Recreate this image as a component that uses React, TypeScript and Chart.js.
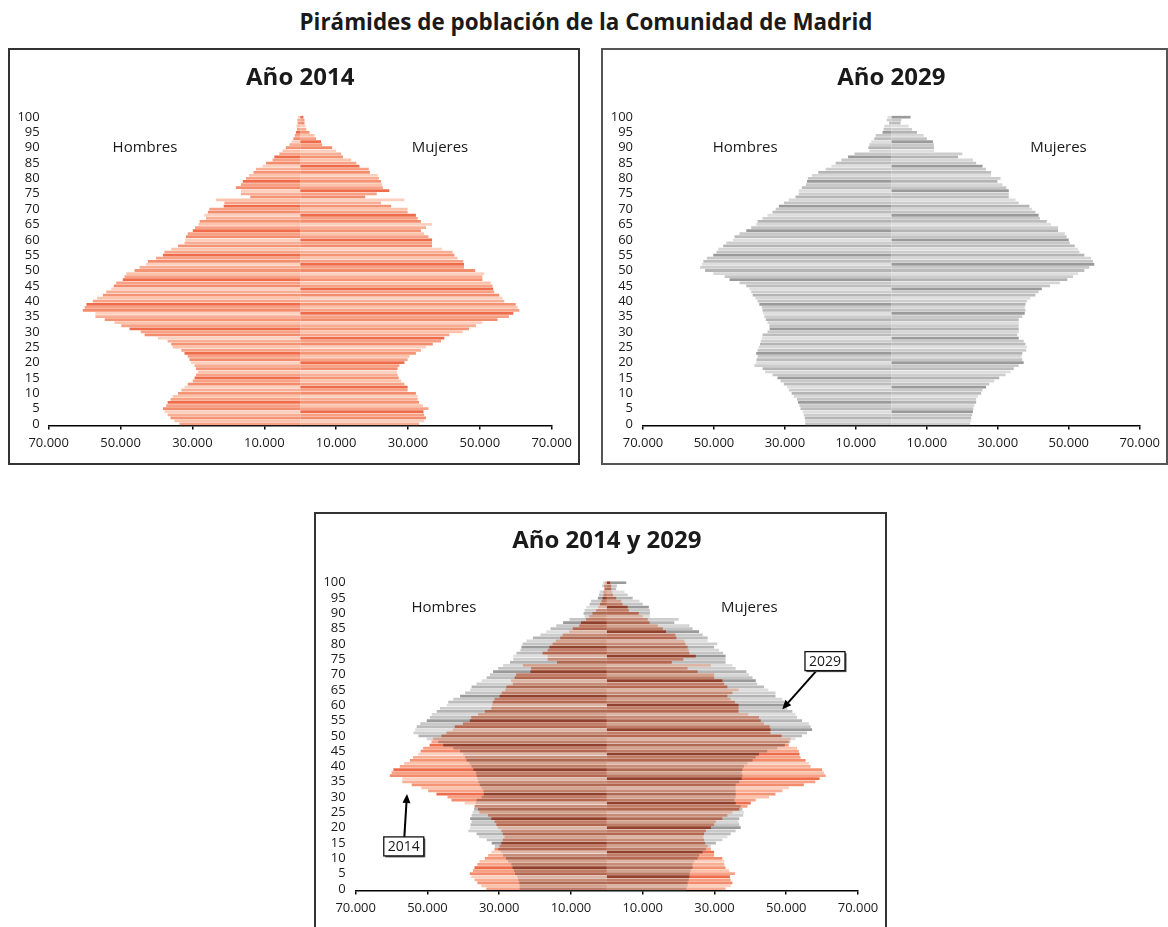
import React, { useEffect, useRef } from 'react';
import { Chart, registerables } from 'chart.js';

Chart.register(...registerables);

// ---------- data ----------
const AGES: string[] = Array.from({ length: 101 }, (_, i) => String(i));

const MALES_2014 = [
  33600, 35000, 36100, 36900, 37800, 38200, 37300, 36900, 36100, 35500,
  34000, 33100, 32200, 31300, 29900, 29400, 29000, 28500, 29000, 29400,
  30400, 30800, 31300, 32200, 33100, 35500, 35900, 36900, 39600, 43300,
  44400, 47500, 49800, 51700, 54400, 57000, 57000, 60500, 60000, 59500,
  57700, 56500, 54900, 54000, 52600, 51900, 51200, 49400, 48900, 48400,
  46100, 44700, 42900, 42400, 40100, 38200, 37800, 35900, 34000, 32200,
  32000, 31800, 31300, 29900, 29300, 28300, 28000, 26200, 26700, 25700,
  25300, 21300, 21100, 23400, 13900, 16500, 16500, 17900, 16500, 16000,
  15100, 14200, 13000, 12300, 10500, 9500, 7700, 7200, 5800, 4900,
  4000, 3000, 2400, 1900, 1500, 1200, 900, 1000, 700, 800,
  600,
];

const FEMALES_2014 = [
  33100, 34500, 35000, 34500, 34300, 35700, 34100, 33100, 32700, 32700,
  32200, 29900, 29900, 29000, 28100, 27400, 27100, 26900, 27100, 27600,
  29000, 29900, 30400, 32200, 33600, 35000, 36900, 39200, 40100, 41500,
  45200, 47000, 48900, 50700, 54900, 58100, 59300, 61000, 60500, 60000,
  56800, 56300, 55400, 54000, 53700, 53500, 53000, 50700, 50700, 51200,
  48700, 45600, 45600, 45400, 43800, 42900, 42400, 39400, 36700, 36700,
  36700, 35700, 34500, 33600, 35000, 36700, 33600, 32700, 32200, 29900,
  29900, 25300, 22500, 29000, 18100, 21300, 24800, 23000, 22800, 22500,
  21900, 21600, 19400, 19100, 16500, 15600, 14200, 11900, 11400, 10000,
  8900, 6100, 5800, 4400, 4000, 2600, 1700, 1500, 1200, 1200,
  900,
];

const MALES_2029 = [
  24300, 24300, 24400, 24700, 25000, 25600, 25900, 26300, 26600, 27500,
  28100, 28900, 29400, 30300, 31200, 32100, 33500, 35600, 36300, 38600,
  38100, 38000, 37700, 38100, 37700, 37400, 37000, 36800, 36500, 36300,
  34900, 34300, 34400, 34900, 35400, 35800, 36100, 36300, 36500, 37200,
  37700, 38300, 39100, 39500, 40000, 40900, 42800, 45600, 47000, 50200,
  52500, 53900, 53400, 53000, 52000, 50200, 49300, 48800, 47400, 46500,
  44600, 44200, 42800, 40900, 39500, 38100, 37700, 36300, 34900, 33500,
  32600, 31700, 30300, 28900, 27000, 26100, 26100, 25200, 24100, 23800,
  23500, 22400, 20600, 18500, 16900, 15700, 14100, 12200, 10400, 6200,
  6500, 6200, 5700, 4800, 4400, 2500, 2200, 2000, 600, 1300,
  1100,
];

const FEMALES_2029 = [
  22200, 22500, 22500, 22800, 23000, 23100, 23400, 23900, 23900, 24400,
  25300, 25700, 26700, 27600, 29000, 30400, 32200, 33600, 34500, 35900,
  37300, 36900, 36700, 36900, 38000, 38200, 37800, 37300, 35900, 35500,
  35900, 35900, 35900, 35900, 35900, 36900, 37600, 37800, 37600, 37800,
  38200, 39200, 40600, 41500, 42400, 44700, 47500, 49600, 51200, 52600,
  54400, 55800, 57200, 56800, 56300, 54400, 53000, 52600, 51700, 50300,
  50000, 49400, 48900, 47000, 47000, 45000, 43800, 41900, 41500, 40600,
  39600, 38900, 35900, 35000, 33100, 33100, 33100, 32400, 31300, 29900,
  30800, 28100, 28100, 26700, 25700, 23900, 23000, 18800, 20000, 12000,
  12000, 12000, 11700, 10000, 9100, 7200, 5800, 4900, 2600, 2800,
  5400,
];

const X_MIN = -70000;
const X_MAX = 70000;
const X_STEP = 20000;
const Y_LABEL_EVERY = 5;

// ---------- styles ----------
const FONT = "'Open Sans', 'DejaVu Sans', sans-serif";
const TEXT = '#1a1a1a';
const ORANGE_SHADES = ['#f7a286', '#fbc3ac', '#f59474', '#f8ae94', '#fcd0bf', '#f38c6c', '#f7a083', '#ee6c4a'];
const GREY_SHADES = ['#c4c4c4', '#d6d6d6', '#b4b4b4', '#cdcdcd', '#dedede', '#bcbcbc', '#c8c8c8', '#9a9a9a'];

function fmtThousands(v: number): string {
  const s = String(Math.abs(Math.round(v)));
  return s.replace(/\B(?=(\d{3})+(?!\d))/g, '.');
}

function shade(list: string[], offset: number) {
  return (ctx: any) => list[(ctx.dataIndex + offset) % list.length];
}

function makeSet(label: string, values: number[], negative: boolean, shades: string[], offset: number, blend?: string) {
  return {
    label,
    data: values.map((v) => (negative ? -v : v)),
    backgroundColor: shade(shades, offset),
    borderWidth: 0,
    blend,
  } as any;
}

const extrasPlugin = {
  id: 'pyramidExtras',
  beforeDatasetDraw(chart: any, args: any) {
    const ds = chart.data.datasets[args.index];
    if (ds && ds.blend) {
      chart.ctx.save();
      chart.ctx.globalCompositeOperation = ds.blend;
    }
  },
  afterDatasetDraw(chart: any, args: any) {
    const ds = chart.data.datasets[args.index];
    if (ds && ds.blend) chart.ctx.restore();
  },
  afterDraw(chart: any, _args: any, opts: any) {
    const { ctx } = chart;
    const x = chart.scales.x;
    const y = chart.scales.y;
    ctx.save();
    ctx.fillStyle = TEXT;
    ctx.textAlign = 'center';
    ctx.textBaseline = 'middle';
    ctx.font = `15px ${FONT}`;
    (opts.sideLabels || []).forEach((l: any) => {
      ctx.fillText(l.text, x.getPixelForValue(l.x), y.getPixelForValue(l.age));
    });
    (opts.callouts || []).forEach((c: any) => {
      const bx = x.getPixelForValue(c.x);
      const by = y.getPixelForValue(c.age);
      const tx = x.getPixelForValue(c.tipX);
      const ty = y.getPixelForValue(c.tipAge);
      const ang = Math.atan2(ty - by, tx - bx);
      const L = 9;
      const W = 4;
      const ex = tx - Math.cos(ang) * L * 0.8;
      const ey = ty - Math.sin(ang) * L * 0.8;
      ctx.strokeStyle = '#000';
      ctx.lineWidth = 2;
      ctx.beginPath();
      ctx.moveTo(bx, by);
      ctx.lineTo(ex, ey);
      ctx.stroke();
      ctx.fillStyle = '#000';
      ctx.beginPath();
      ctx.moveTo(tx, ty);
      ctx.lineTo(tx - Math.cos(ang) * L - Math.sin(ang) * W, ty - Math.sin(ang) * L + Math.cos(ang) * W);
      ctx.lineTo(tx - Math.cos(ang) * L + Math.sin(ang) * W, ty - Math.sin(ang) * L - Math.cos(ang) * W);
      ctx.closePath();
      ctx.fill();
      ctx.font = `14px ${FONT}`;
      const w = ctx.measureText(c.text).width + 8;
      const h = 19;
      ctx.fillStyle = '#555';
      ctx.fillRect(bx - w / 2 + 1.5, by - h / 2 + 1.5, w, h);
      ctx.fillStyle = '#fff';
      ctx.fillRect(bx - w / 2, by - h / 2, w, h);
      ctx.strokeStyle = '#111';
      ctx.lineWidth = 1.3;
      ctx.strokeRect(bx - w / 2, by - h / 2, w, h);
      ctx.fillStyle = TEXT;
      ctx.fillText(c.text, bx, by + 0.5);
    });
    ctx.restore();
  },
};

type PyramidProps = {
  width: number;
  height: number;
  title: string;
  datasets: any[];
  padding: { left: number; right: number; top: number; bottom: number };
  yAxisWidth: number;
  yTickPad: number;
  titlePad: { top: number; bottom: number };
  sideLabels: any[];
  callouts?: any[];
};

function Pyramid(p: PyramidProps) {
  const ref = useRef<HTMLCanvasElement>(null);
  useEffect(() => {
    if (!ref.current) return;
    const tickFont = { family: FONT, size: 13 };
    const chart = new Chart(ref.current, {
      type: 'bar',
      data: { labels: AGES, datasets: p.datasets },
      options: {
        indexAxis: 'y',
        responsive: false,
        maintainAspectRatio: false,
        animation: false,
        layout: { padding: p.padding },
        datasets: { bar: { grouped: false, categoryPercentage: 1, barPercentage: 0.9 } } as any,
        plugins: {
          legend: { display: false },
          tooltip: { enabled: false },
          title: {
            display: true,
            text: p.title,
            fullSize: false,
            color: TEXT,
            font: { family: FONT, size: 24, weight: 'bold' },
            padding: p.titlePad,
          },
          pyramidExtras: { sideLabels: p.sideLabels, callouts: p.callouts || [] },
        } as any,
        scales: {
          x: {
            type: 'linear',
            min: X_MIN,
            max: X_MAX,
            ticks: {
              stepSize: X_STEP,
              autoSkip: false,
              maxRotation: 0,
              padding: 6,
              color: TEXT,
              font: tickFont,
              callback: (v: any) => fmtThousands(Number(v)),
            },
            grid: { drawOnChartArea: false, drawTicks: true, tickLength: 4, color: '#000', lineWidth: 1.5 },
            border: { display: true, color: '#000', width: 1.5 },
            afterFit: (s: any) => {
              s.height = 30;
            },
          },
          y: {
            type: 'category',
            reverse: true,
            offset: true,
            ticks: {
              autoSkip: false,
              padding: p.yTickPad,
              color: TEXT,
              font: tickFont,
              callback: (_v: any, i: number) => (i % Y_LABEL_EVERY === 0 ? AGES[i] : ''),
            },
            grid: { display: false, drawTicks: false },
            border: { display: false },
            afterFit: (s: any) => {
              s.width = p.yAxisWidth;
            },
          },
        } as any,
      },
      plugins: [extrasPlugin as any],
    });
    return () => chart.destroy();
  }, []);
  return <canvas ref={ref} width={p.width} height={p.height} style={{ display: 'block', width: p.width, height: p.height }} />;
}

function Panel(props: { left: number; top: number; width: number; height: number; border: string; children: any }) {
  return (
    <div
      style={{
        position: 'absolute',
        left: props.left,
        top: props.top,
        width: props.width,
        height: props.height,
        border: props.border,
        boxSizing: 'border-box',
        background: '#fff',
      }}
    >
      {props.children}
    </div>
  );
}

export default function App() {
  const ds2014 = [
    makeSet('Hombres 2014', MALES_2014, true, ORANGE_SHADES, 0),
    makeSet('Mujeres 2014', FEMALES_2014, false, ORANGE_SHADES, 3),
  ];
  const ds2029 = [
    makeSet('Hombres 2029', MALES_2029, true, GREY_SHADES, 0),
    makeSet('Mujeres 2029', FEMALES_2029, false, GREY_SHADES, 3),
  ];
  const dsBoth = [
    makeSet('Hombres 2014', MALES_2014, true, ORANGE_SHADES, 0, 'multiply'),
    makeSet('Mujeres 2014', FEMALES_2014, false, ORANGE_SHADES, 3, 'multiply'),
    makeSet('Hombres 2029', MALES_2029, true, GREY_SHADES, 0),
    makeSet('Mujeres 2029', FEMALES_2029, false, GREY_SHADES, 3),
  ];

  return (
    <div
      style={{
        position: 'absolute',
        left: 0,
        top: 0,
        width: 1168,
        height: 927,
        overflow: 'hidden',
        background: '#fff',
        fontFamily: FONT,
      }}
    >
      <div
        style={{
          position: 'absolute',
          left: 0,
          top: 8,
          width: 1172,
          textAlign: 'center',
          fontSize: 22.4,
          fontWeight: 700,
          lineHeight: '28px',
          color: TEXT,
        }}
      >
        Pirámides de población de la Comunidad de Madrid
      </div>

      <Panel left={8} top={48} width={572} height={417} border="2px solid #333">
        <Pyramid
          width={568}
          height={413}
          title="Año 2014"
          datasets={ds2014}
          padding={{ left: 0, right: 26, top: 0, bottom: 7.5 }}
          yAxisWidth={38.7}
          yTickPad={9}
          titlePad={{ top: 13.6, bottom: 23.1 }}
          sideLabels={[
            { text: 'Hombres', x: -43200, age: 90 },
            { text: 'Mujeres', x: 38900, age: 90 },
          ]}
        />
      </Panel>

      <Panel left={601} top={48} width={567} height={417} border="2px solid #555">
        <Pyramid
          width={563}
          height={413}
          title="Año 2029"
          datasets={ds2029}
          padding={{ left: 0, right: 21, top: 0, bottom: 7.5 }}
          yAxisWidth={40}
          yTickPad={10}
          titlePad={{ top: 13.6, bottom: 23.1 }}
          sideLabels={[
            { text: 'Hombres', x: -41200, age: 90 },
            { text: 'Mujeres', x: 47100, age: 90 },
          ]}
        />
      </Panel>

      <Panel left={314} top={512} width={573} height={440} border="2px solid #333">
        <Pyramid
          width={569}
          height={436}
          title="Año 2014 y 2029"
          datasets={dsBoth}
          padding={{ left: 0, right: 27, top: 0, bottom: 29.5 }}
          yAxisWidth={39.7}
          yTickPad={10}
          titlePad={{ top: 12.6, bottom: 25.8 }}
          sideLabels={[
            { text: 'Hombres', x: -45400, age: 91.8 },
            { text: 'Mujeres', x: 39700, age: 91.8 },
          ]}
          callouts={[
            { text: '2014', x: -56600, age: 13.9, tipX: -55700, tipAge: 31 },
            { text: '2029', x: 60800, age: 74.4, tipX: 48900, tipAge: 58.7 },
          ]}
        />
      </Panel>
    </div>
  );
}
